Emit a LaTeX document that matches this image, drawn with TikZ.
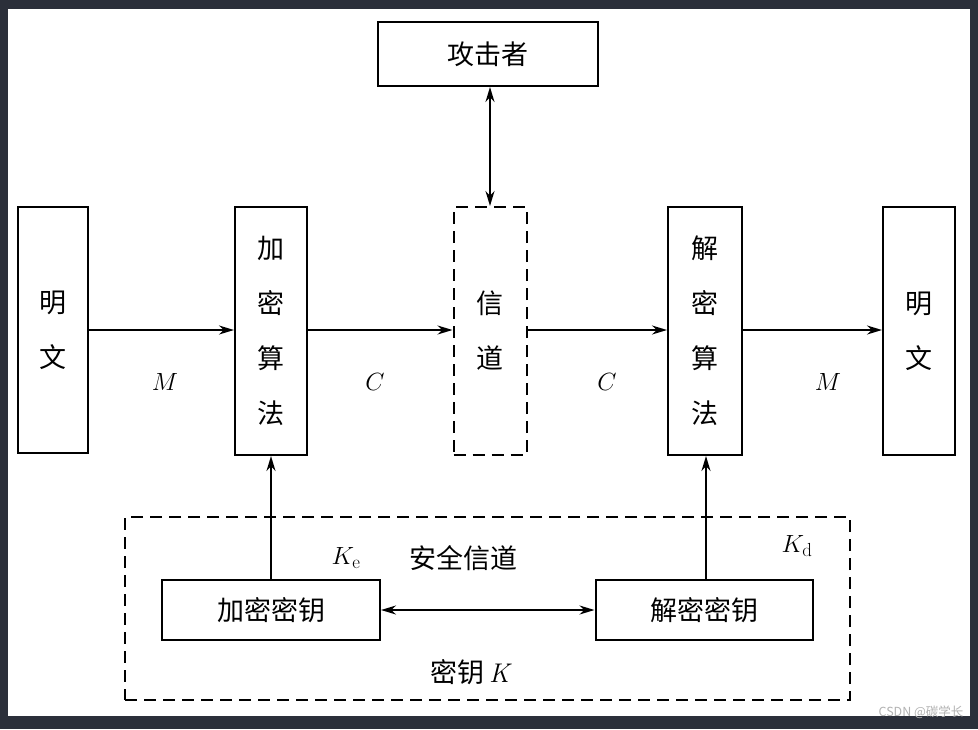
\documentclass[tikz,border=0pt]{standalone}
\usepackage{fontspec}
\newfontfamily\cjk{Noto Sans CJK SC}
\usetikzlibrary{arrows.meta}
\definecolor{frame}{HTML}{2B2F3A}
\begin{document}
\begin{tikzpicture}[x=1pt,y=-1pt,
  box/.style={draw=black,line width=2pt,fill=white,inner sep=0pt,font=\cjk\fontsize{27}{55}\selectfont,align=center},
  dbox/.style={box,dashed,dash pattern=on 12pt off 7pt},
  arr/.style={line width=2pt,-{Stealth[length=15pt,width=9pt]}},
  darr/.style={line width=2pt,{Stealth[length=15pt,width=9pt]}-{Stealth[length=15pt,width=9pt]}},
  lbl/.style={font=\fontsize{27}{30}\selectfont},
  clbl/.style={font=\cjk\fontsize{27}{30}\selectfont}]
\useasboundingbox (0,0) rectangle (978,729);
\fill[frame] (0,0) rectangle (978,729);
\fill[white] (8,9) rectangle (970,716);
% key region
\node[dbox,minimum width=725pt,minimum height=183pt] (keyreg) at (487.5,608.5) {};
% boxes
\node[box,minimum width=220pt,minimum height=64pt] (atk) at (488,54) {攻击者};
\node[box,minimum width=70pt,minimum height=246pt] (ptL) at (53,330) {明\\文};
\node[box,minimum width=72pt,minimum height=248pt] (enc) at (271,331) {加\\密\\算\\法};
\node[dbox,minimum width=73pt,minimum height=248pt] (chan) at (490,331) {信\\道};
\node[box,minimum width=74pt,minimum height=248pt] (dec) at (705,331) {解\\密\\算\\法};
\node[box,minimum width=72pt,minimum height=248pt] (ptR) at (919,331) {明\\文};
\node[box,minimum width=218pt,minimum height=60pt] (ke) at (271,610) {加密密钥};
\node[box,minimum width=217pt,minimum height=60pt] (kd) at (704,610) {解密密钥};
% connectors
\draw[arr] (ptL.east |- 0,330) -- (enc.west |- 0,330);
\draw[arr] (enc.east |- 0,330) -- (chan.west |- 0,330);
\draw[arr] (chan.east |- 0,330) -- (dec.west |- 0,330);
\draw[arr] (dec.east |- 0,330) -- (ptR.west |- 0,330);
\draw[darr] (atk.south -| 490,0) -- (chan.north -| 490,0);
\draw[arr] (ke.north) -- (enc.south);
\draw[arr] (kd.north -| 706,0) -- (dec.south -| 706,0);
\draw[darr] (ke.east) -- (kd.west);
% labels
\node[lbl] (m1) at (165,382) {$M$};
\node[lbl] (c1) at (375,382) {$C$};
\node[lbl] (c2) at (607,382) {$C$};
\node[lbl] (m2) at (828,382) {$M$};
\node[lbl] (kel) at (346,558) {$K_{\mathrm{e}}$};
\node[clbl] (sc) at (463,558) {安全信道};
\node[lbl] (kdl) at (797,546) {$K_{\mathrm{d}}$};
\node[clbl] (kk) at (470,672) {密钥\,{\fontspec{Latin Modern Roman}\itshape K}};
\node[font=\cjk\fontsize{12.5}{13}\selectfont,text=gray!60,anchor=east] (wm) at (967,712) {CSDN @碳学长};
\end{tikzpicture}
\end{document}
